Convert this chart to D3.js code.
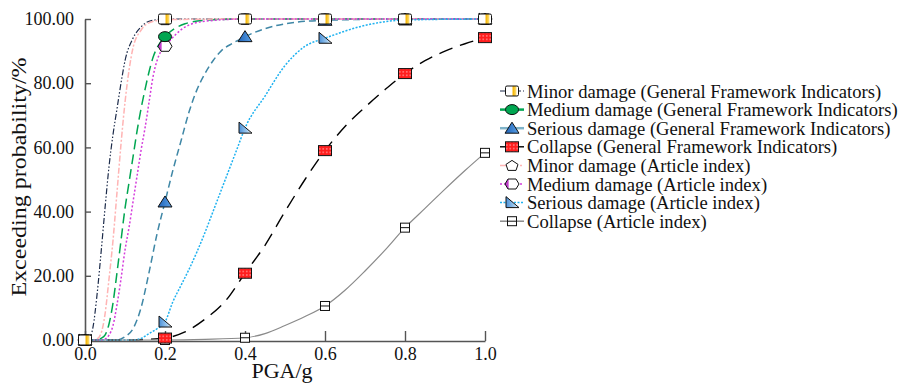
<!DOCTYPE html>
<html>
<head>
<meta charset="utf-8">
<script src="https://cdn.jsdelivr.net/npm/d3@7"></script>
<style>
  body { margin: 0; background: #fff; }
  svg text { font-family: 'Liberation Serif', 'Times New Roman', Times, 'DejaVu Serif', serif !important; }
</style>
</head>
<body>
<div id="chart"></div>
<script>
// [PGA (g), exceeding probability (%)]
const minorGFI = [[0,0],[0.01,0.5],[0.02,4],[0.03,14],[0.04,27],[0.05,41],[0.06,54],[0.07,64],[0.08,72],[0.09,80],[0.10,87],[0.12,94],[0.14,97.5],[0.16,99.3],[0.2,100],[0.4,100],[0.6,100],[0.8,100],[1.0,100]];
const mediumGFI = [[0,0],[0.03,0],[0.04,0.5],[0.05,1.5],[0.06,5],[0.07,11.5],[0.08,21],[0.09,31],[0.10,41],[0.11,49],[0.12,57],[0.13,65],[0.14,72],[0.15,78],[0.16,83.5],[0.17,88],[0.18,91],[0.19,93],[0.2,94.5],[0.25,98.5],[0.3,99.6],[0.4,100],[0.6,100],[0.8,100],[1.0,100]];
const seriousGFI = [[0,0],[0.08,0],[0.10,1],[0.12,3.5],[0.14,10],[0.16,21],[0.18,33],[0.2,43],[0.22,53],[0.24,62],[0.26,71],[0.28,78],[0.30,83],[0.32,87],[0.34,90],[0.37,92.5],[0.4,94.5],[0.45,97],[0.5,98.5],[0.6,99.6],[0.8,100],[1.0,100]];
const collapseGFI = [[0,0],[0.1,0],[0.15,0.2],[0.2,0.6],[0.25,2.5],[0.3,6.5],[0.35,12],[0.4,20.8],[0.45,29.5],[0.5,40],[0.55,50],[0.6,59],[0.65,66.5],[0.7,72.5],[0.75,78],[0.8,83],[0.85,87],[0.9,90],[0.95,92.3],[1.0,94.2]];
const minorArt = [[0,0],[0.02,0],[0.03,0.3],[0.04,2],[0.05,8],[0.06,19],[0.07,31],[0.08,46],[0.09,61],[0.10,74],[0.11,84],[0.12,91],[0.14,96.5],[0.16,98.8],[0.2,99.8],[0.4,100],[0.6,100],[0.8,100],[1.0,100]];
const mediumArt = [[0,0],[0.04,0],[0.05,0.3],[0.06,1.5],[0.07,4.5],[0.08,11],[0.09,19],[0.10,28],[0.11,35],[0.12,43],[0.13,51],[0.14,59],[0.15,66],[0.16,74],[0.17,82],[0.18,87],[0.19,90],[0.2,91.5],[0.25,97.5],[0.3,99.3],[0.4,100],[0.6,100],[0.8,100],[1.0,100]];
const seriousArt = [[0,0],[0.12,0],[0.14,0.5],[0.16,2],[0.18,3.5],[0.2,5.6],[0.22,12],[0.24,17],[0.26,22],[0.28,27.5],[0.3,33.5],[0.32,40],[0.34,46.5],[0.36,53],[0.38,59.5],[0.4,66],[0.45,76],[0.5,85.5],[0.55,91.5],[0.6,94],[0.7,98],[0.8,99.7],[1.0,100]];
const collapseArt = [[0,0],[0.2,0],[0.3,0.2],[0.4,0.7],[0.45,2],[0.5,4.5],[0.55,7.3],[0.6,10.6],[0.65,15.5],[0.7,21.5],[0.75,28],[0.8,35],[0.85,41],[0.9,47],[0.95,52.8],[1.0,58.3]];

const seriesNames = [
  "Minor damage (General Framework Indicators)",
  "Medium damage (General Framework Indicators)",
  "Serious damage (General Framework Indicators)",
  "Collapse (General Framework Indicators)",
  "Minor damage (Article index)",
  "Medium damage (Article index)",
  "Serious damage (Article index)",
  "Collapse (Article index)"
];
const markerPGA = [0, 0.2, 0.4, 0.6, 0.8, 1.0];
const xTicks = [0, 0.2, 0.4, 0.6, 0.8, 1.0];
const yTicks = [0, 20, 40, 60, 80, 100];

// styling per series
const series = [
  { data: minorGFI,    color: "#1c2b4a", dash: "6,2,1.5,2,1.5,2", w: 1.2, legW: 1.2, marker: "squareY" },
  { data: mediumGFI,   color: "#00a651", dash: "10,5",            w: 1.5, legW: 2.5, legDash: null, marker: "ellipse" },
  { data: seriousGFI,  color: "#3f87a6", dash: "7,4",             w: 1.5, legW: 2.5, legDash: null, legColor: "#7fb3c9", marker: "triangle" },
  { data: collapseGFI, color: "#000000", dash: "14,8",            w: 1.4, legW: 1.4, legDash: null, marker: "squareR" },
  { data: minorArt,    color: "#ffb4b4", dash: "6,2,2,2",         w: 1.5, legW: 1.5, marker: "pentagon" },
  { data: mediumArt,   color: "#d43cdc", dash: "2,2",             w: 1.5, legW: 1.5, marker: "hexagon" },
  { data: seriousArt,  color: "#1fb2f0", dash: "2,1.5",           w: 1.5, legW: 1.5, marker: "rtri" },
  { data: collapseArt, color: "#8a8a8a", dash: null,              w: 1.2, legW: 1.5, marker: "squareW" }
];

const W = 903, H = 384;
const x = d3.scaleLinear().domain([0, 1]).range([85, 485]);
const y = d3.scaleLinear().domain([0, 100]).range([340, 19]);

const svg = d3.select("#chart").append("svg")
  .attr("width", W).attr("height", H);

const defs = svg.append("defs");
function grad(id, stops) {
  const g = defs.append("linearGradient").attr("id", id)
    .attr("x1", "0%").attr("x2", "100%").attr("y1", "0%").attr("y2", "0%");
  stops.forEach(s => g.append("stop").attr("offset", s[0]).attr("stop-color", s[1]));
}
grad("gYel", [["0%", "#fff"], ["50%", "#fff"], ["58%", "#f5b400"], ["78%", "#fbd760"], ["88%", "#fff"], ["100%", "#fff"]]);
grad("gMag", [["0%", "#c03ccc"], ["22%", "#c03ccc"], ["30%", "#fff"], ["100%", "#fff"]]);
grad("gBlu", [["0%", "#4a90d8"], ["60%", "#9cc8ee"], ["100%", "#fff"]]);
grad("gTri", [["0%", "#1f63b8"], ["100%", "#5aa0e6"]]);
// red with white dots
const pat = defs.append("pattern").attr("id", "pRed")
  .attr("width", 3.5).attr("height", 3.5).attr("patternUnits", "userSpaceOnUse");
pat.append("rect").attr("width", 3.5).attr("height", 3.5).attr("fill", "#ff1e1e");
pat.append("circle").attr("cx", 1.75).attr("cy", 1.75).attr("r", 0.7).attr("fill", "#ffd0d0");

function drawMarker(g, type, cx, cy) {
  const m = g.append("g").attr("transform", `translate(${cx},${cy})`);
  let el;
  switch (type) {
    case "squareY":
      el = m.append("rect").attr("x", -6.5).attr("y", -5).attr("width", 13).attr("height", 10).attr("rx", 1.5).attr("fill", "url(#gYel)");
      break;
    case "ellipse":
      el = m.append("ellipse").attr("rx", 6.5).attr("ry", 5).attr("fill", "#00a651");
      break;
    case "triangle":
      el = m.append("path").attr("d", "M0,-6L7,5L-7,5Z").attr("fill", "url(#gTri)");
      break;
    case "squareR":
      el = m.append("rect").attr("x", -6.5).attr("y", -5).attr("width", 13).attr("height", 10).attr("fill", "url(#pRed)");
      break;
    case "pentagon":
      el = m.append("path").attr("d", "M0,-5L6,-1L4,5L-4,5L-6,-1Z").attr("fill", "#fff");
      break;
    case "hexagon":
      el = m.append("path").attr("d", "M-4,-5L4,-5L7,0L4,5L-4,5L-7,0Z").attr("fill", "url(#gMag)");
      break;
    case "rtri":
      el = m.append("path").attr("d", "M-6,-6L-6,5L7,5Z").attr("fill", "url(#gBlu)");
      break;
    case "squareW":
      el = m.append("rect").attr("x", -4.5).attr("y", -4.5).attr("width", 9).attr("height", 9).attr("fill", "#fff");
      m.append("line").attr("x1", -4.5).attr("x2", 4.5).attr("y1", 0).attr("y2", 0).attr("stroke", "#111");
      break;
  }
  el.attr("stroke", "#111").attr("stroke-width", 1);
  m.select("line").raise();
}

// axes (ticks point inward)
const xAxis = svg.append("g").attr("transform", "translate(0,341)")
  .call(d3.axisBottom(x).tickValues(xTicks).tickFormat(d3.format(".1f")).tickSize(-10).tickSizeOuter(0).tickPadding(6));
const yAxis = svg.append("g").attr("transform", "translate(85,0)")
  .call(d3.axisLeft(y).tickValues(yTicks).tickFormat(d3.format(".2f")).tickSize(-6).tickSizeOuter(0).tickPadding(11));
[xAxis, yAxis].forEach(a => {
  a.attr("font-family", null);
  a.select(".domain").attr("stroke", "#555").attr("stroke-width", 1.6);
  a.selectAll(".tick line").attr("stroke", "#555").attr("stroke-width", 1.4);
  a.selectAll("text").attr("font-size", 18).attr("fill", "#111");
});

svg.append("text").attr("x", 282).attr("y", 378).attr("text-anchor", "middle")
  .attr("font-size", 22).attr("fill", "#111").text("PGA/g");
svg.append("text").attr("transform", "translate(26,177) rotate(-90) scale(1.2,1)").attr("text-anchor", "middle")
  .attr("font-size", 20).attr("fill", "#111").text("Exceeding probability/%");

// curves
const line = d3.line().x(d => x(d[0])).y(d => y(d[1])).curve(d3.curveMonotoneX);
const plot = svg.append("g");
series.forEach(s => {
  plot.append("path").datum(s.data)
    .attr("d", line)
    .attr("fill", "none")
    .attr("stroke", s.color)
    .attr("stroke-width", s.w)
    .attr("stroke-dasharray", s.dash);
});

// markers at 0.2 g steps, first series on top
const mk = svg.append("g");
series.slice().reverse().forEach(s => {
  s.data.filter(d => markerPGA.some(p => Math.abs(p - d[0]) < 1e-9))
    .forEach(d => drawMarker(mk, s.marker, x(d[0]), y(d[1])));
});

// legend
const leg = svg.append("g").attr("transform", "translate(500,91)");
series.forEach((s, i) => {
  const row = leg.append("g").attr("transform", `translate(0,${i * 18.6})`);
  row.append("line").attr("x1", 0).attr("x2", 24).attr("y1", 0).attr("y2", 0)
    .attr("stroke", s.legColor || s.color).attr("stroke-width", s.legW)
    .attr("stroke-dasharray", s.legDash === null ? null : s.dash);
  drawMarker(row, s.marker, 12, 0);
  row.append("text").attr("x", 27).attr("y", 0).attr("dy", "0.35em")
    .attr("font-size", 18.6).attr("fill", "#111").text(seriesNames[i]);
});
</script>
</body>
</html>
